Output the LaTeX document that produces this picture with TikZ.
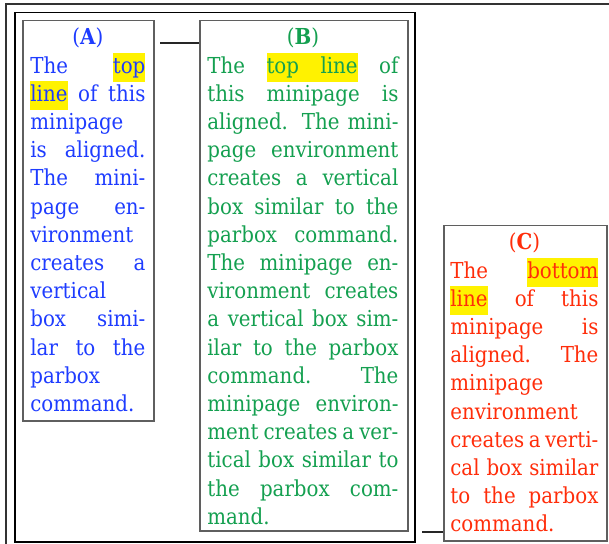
\documentclass[tikz,border=0pt]{standalone}
\usepackage{fontspec}
\IfFontExistsTF{DejaVu Serif Condensed}
  {\setmainfont{DejaVu Serif Condensed}\newcommand\myfs{\fontsize{11}{14.1}\selectfont}}
  {\setmainfont{Liberation Serif}\newcommand\myfs{\fontsize{12}{14.1}\selectfont}}
\definecolor{ablue}{RGB}{30,60,255}
\definecolor{bgreen}{RGB}{20,160,80}
\definecolor{cred}{RGB}{255,45,10}
\definecolor{hly}{RGB}{255,242,0}
\definecolor{boxgray}{RGB}{95,95,95}
\newsavebox\hlsave
\newcommand\hl[1]{\sbox\hlsave{#1}\makebox[0pt][l]{\smash{\color{hly}\rule[-4.5pt]{\wd\hlsave}{14.5pt}}}\usebox\hlsave}
\newcommand\hlspace{{\color{hly}\leaders\hrule height 10pt depth 4.5pt\hskip\fontdimen2\font plus\fontdimen3\font minus\fontdimen4\font}}
\newcommand\jline[1]{\hbox to \linewidth{\spaceskip=0pt\xspaceskip=0pt #1}\par}
\newcommand\lline[1]{\hbox to \linewidth{#1\hfil}\par}
\newcommand\lab[1]{\hbox to \linewidth{\hfil(\textbf{#1})\hfil}\par}
\tikzset{
  gbox/.style={draw=boxgray, line width=0.75pt, rectangle, inner sep=0pt, anchor=north west},
  framebox/.style={draw=black, line width=0.75pt, rectangle, inner sep=0pt, anchor=north west},
  txt/.style={inner sep=0pt, anchor=base west, font=\myfs},
  conn/.style={draw=black!85, line width=0.6pt},
  outerline/.style={draw=black!80, line width=0.6pt}
}
\begin{document}
\begin{tikzpicture}[x=0.5pt, y=-0.5pt]
\fill[white] (0,0) rectangle (609,544);
\useasboundingbox (0,0) rectangle (609,544);
\draw[outerline] (6,544) -- (6,4) -- (609,4);
\node[framebox, minimum width=200pt, minimum height=264.5pt] (F) at (14,12) {};
\node[gbox, minimum width=65.5pt, minimum height=200pt] (A) at (22,20) {};
\node[gbox, minimum width=104pt, minimum height=255pt] (B) at (199,20) {};
\node[gbox, minimum width=81.5pt, minimum height=157.5pt] (C) at (443,225) {};
\node[txt, text=ablue, text width=57.5pt] (At) at (30,45) {%
\lab{A}
\jline{The \hl{top}}
\jline{\hl{line} of this}
\lline{minipage}
\jline{is aligned.}
\jline{The mini-}
\jline{page en-}
\lline{vironment}
\jline{creates a}
\lline{vertical}
\jline{box simi-}
\jline{lar to the}
\lline{parbox}
\lline{command.}};
\node[txt, text=bgreen, text width=95.5pt] (Bt) at (207,45) {%
\lab{B}
\jline{The \hl{top}\hlspace\hl{line} of}
\jline{this minipage is}
\jline{aligned. The mini-}
\jline{page environment}
\jline{creates a vertical}
\jline{box similar to the}
\jline{parbox command.}
\jline{The minipage en-}
\jline{vironment creates}
\jline{a vertical box sim-}
\jline{ilar to the parbox}
\jline{command. The}
\jline{minipage environ-}
\jline{ment creates a ver-}
\jline{tical box similar to}
\jline{the parbox com-}
\lline{mand.}};
\node[txt, text=cred, text width=74pt] (Ct) at (450,250) {%
\lab{C}
\jline{The \hl{bottom}}
\jline{\hl{line} of this}
\jline{minipage is}
\jline{aligned. The}
\lline{minipage}
\lline{environment}
\jline{creates a verti-}
\jline{cal box similar}
\jline{to the parbox}
\lline{command.}};
\coordinate (ca) at (160,43);
\draw[conn] (ca) -- (ca -| B.west);
\coordinate (cc) at (422,532);
\draw[conn] (cc) -- (cc -| C.west);
\end{tikzpicture}
\end{document}
